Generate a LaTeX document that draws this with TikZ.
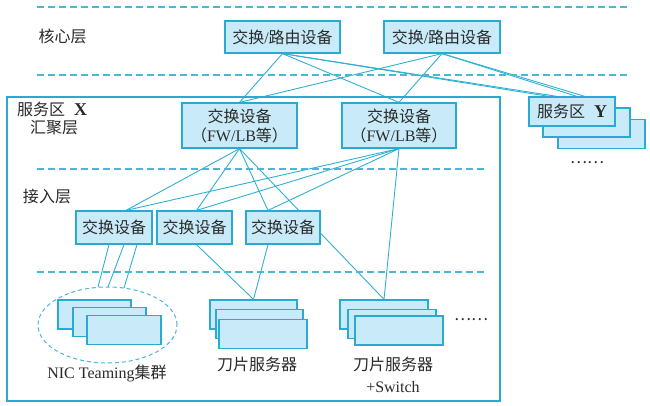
\documentclass[tikz,border=0pt]{standalone}
\usepackage{fontspec}
\setmainfont{Liberation Serif}
\newfontfamily\cjk{Noto Sans CJK SC}
\usetikzlibrary{backgrounds}
\definecolor{boxfill}{HTML}{C9EBF9}
\definecolor{boxline}{HTML}{2AAAD2}
\definecolor{wire}{HTML}{30B0D5}
\definecolor{guide}{HTML}{4DB6D6}
\definecolor{txt}{HTML}{2A2A2A}
\newcommand{\zonetag}[1]{{\fontsize{18}{19}\selectfont\textbf{#1}}}
\begin{document}
\begin{tikzpicture}[x=1pt,y=-1pt,
  dev/.style={draw=boxline, fill=boxfill, line width=1.2pt, inner sep=0pt,
    text=txt, font=\fontsize{16}{19}\selectfont, align=center},
  card/.style={dev, minimum width=#1, minimum height=29pt},
  lbl/.style={inner sep=0pt, text=txt, font=\fontsize{16}{19}\selectfont, align=center},
  wirel/.style={draw=wire, line width=0.9pt},
  layerline/.style={draw=guide, line width=1.3pt, dash pattern=on 7pt off 4pt},
  zone/.style={draw=boxline, line width=2pt},
  team/.style={draw=guide, line width=1pt, dash pattern=on 4pt off 3pt}]

\useasboundingbox (0,0) rectangle (650,406);

% layer separators
\draw[layerline] (37,7) -- (631,7);
\draw[layerline] (37,75) -- (631,75);
\draw[layerline] (37,169) -- (487,169);
\draw[layerline] (37,272) -- (487,272);

% layer names
\node[lbl] (lcore) at (62.5,36) {\cjk 核心层};
\node[lbl] (lagg) at (54,128) {\cjk 汇聚层};
\node[lbl] (lacc) at (47,197) {\cjk 接入层};

% service zone X frame
\draw[zone] (7,97) rectangle (500,401);
\node[lbl, anchor=west] (zx) at (17,109) {{\cjk 服务区}\hspace{9pt}\zonetag{X}};

% core layer
\node[dev, minimum width=115pt, minimum height=32pt] (core1) at (282.5,37)
  {{\cjk 交换}/{\cjk 路由设备}};
\node[dev, minimum width=116pt, minimum height=32pt] (core2) at (442,37)
  {{\cjk 交换}/{\cjk 路由设备}};

% aggregation layer
\node[dev, minimum width=115pt, minimum height=45pt] (aggA) at (239.5,125.5)
  {{\cjk 交换设备}\\{\cjk （}FW/LB{\cjk 等）}};
\node[dev, minimum width=114pt, minimum height=45pt] (aggB) at (399,125.5)
  {{\cjk 交换设备}\\{\cjk （}FW/LB{\cjk 等）}};

% access layer
\node[dev, minimum width=76pt, minimum height=33pt] (S1) at (114,227.5) {\cjk 交换设备};
\node[dev, minimum width=75pt, minimum height=33pt] (S2) at (194.5,227.5) {\cjk 交换设备};
\node[dev, minimum width=74pt, minimum height=33pt] (S3) at (283,227.5) {\cjk 交换设备};

% service zone Y stack
\node[card=87pt] (Y3) at (601.5,134) {};
\node[card=87pt] (Y2) at (586.5,122.5) {};
\node[card=86pt] (Y1) at (572,111.5) {{\cjk 服务区}\hspace{9pt}\zonetag{Y}};
\node[lbl] (ydots) at (587,163) {\cjk ……};

% NIC teaming cluster
\draw[team] (107.5,325) ellipse [x radius=69.5pt, y radius=38pt];
\node[card=73pt] (n1) at (94.5,314.5) {};
\node[card=73pt] (n2) at (109.5,322) {};
\node[card=74pt] (n3) at (124,330) {};
\node[lbl] (nictext) at (107,373) {NIC Teaming{\cjk 集群}};

% blade servers
\node[card=87pt] (b1) at (253.5,314.5) {};
\node[card=87pt] (b2) at (259.5,324) {};
\node[card=88pt] (b3) at (263,334) {};
\node[lbl] (btext) at (257,364) {\cjk 刀片服务器};

% blade servers with switch
\node[card=88pt] (c1) at (384,314.5) {};
\node[card=88pt] (c2) at (392,324) {};
\node[card=88pt] (c3) at (399,330.5) {};
\node[lbl] (ctext) at (393,375) {{\cjk 刀片服务器}\\[3pt]+Switch};
\node[lbl] (cdots) at (471,320) {\cjk ……};

% links
\begin{scope}[on background layer]
\fill[white] (0,0) rectangle (650,406);
% core to aggregation and zone Y
\draw[wirel] (core1.south) -- (aggA.north);
\draw[wirel] (core1.south) -- (aggB.north);
\draw[wirel] (core2.south) -- (aggA.north);
\draw[wirel] (core2.south) -- (aggB.north);
\draw[wirel] (core1.south) -- ([xshift=-23pt]Y1.north);
\draw[wirel] (core1.south) -- ([xshift=-15pt]Y1.north);
\draw[wirel] (core2.south) -- ([xshift=5pt]Y1.north);
\draw[wirel] (core2.south) -- ([xshift=13pt]Y1.north);
% aggregation to access
\draw[wirel] (aggA.south) -- ([xshift=12pt]S1.north);
\draw[wirel] (aggA.south) -- ([xshift=2pt]S2.north);
\draw[wirel] (aggA.south) -- ([xshift=-15pt]S3.north);
\draw[wirel] (aggA.south) -- (c1.north);
\draw[wirel] (aggB.south) -- ([xshift=12pt]S1.north);
\draw[wirel] (aggB.south) -- ([xshift=2pt]S2.north);
\draw[wirel] (aggB.south) -- ([xshift=-15pt]S3.north);
\draw[wirel] (aggB.south) -- (c1.north);
% access to servers
\draw[wirel] ([xshift=-5pt]S1.south) -- (98,287);
\draw[wirel] ([xshift=10pt]S1.south) -- (108,287);
\draw[wirel] ([xshift=23pt]S1.south) -- (124,288);
\draw[wirel] ([xshift=2pt]S2.south) -- (b1.north);
\draw[wirel] ([xshift=-15pt]S3.south) -- (b1.north);
\end{scope}
\end{tikzpicture}
\end{document}
